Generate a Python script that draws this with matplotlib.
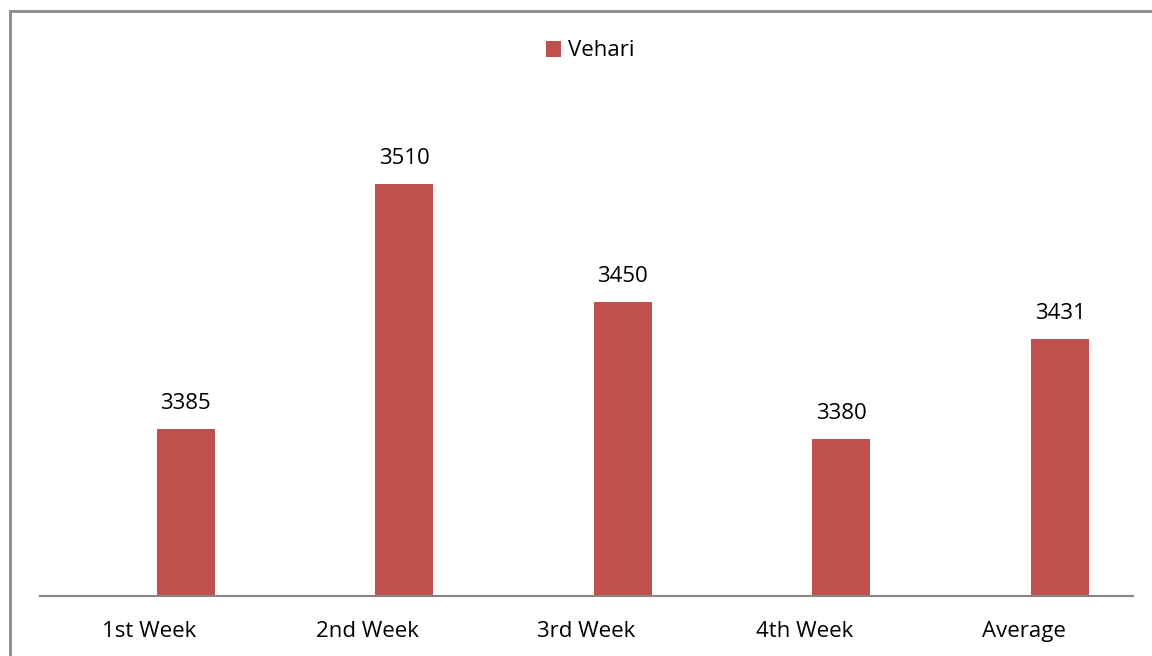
import matplotlib.pyplot as plt
from matplotlib.patches import Rectangle

categories = ["1st Week", "2nd Week", "3rd Week", "4th Week", "Average"]
values = [3385, 3510, 3450, 3380, 3431]

bar_color = "#C0504D"
plt.rcParams['font.family'] = ['Open Sans', 'DejaVu Sans']

fig = plt.figure(figsize=(11.52, 6.56), dpi=100)
ax = fig.add_axes([40 / 1152, 60 / 656, (1133 - 40) / 1152, 490 / 656])

x = list(range(len(categories)))
xb = [i + 0.166 for i in x]
bars = ax.bar(xb, values, width=0.265, color=bar_color, label="Vehari")

ax.set_xlim(-0.5, len(categories) - 0.5)
ax.set_ylim(3300, 3550)
ax.set_xticks(x)
ax.set_xticklabels(categories, fontsize=16)
ax.tick_params(axis='x', length=0, pad=18)
ax.set_yticks([])
for side in ['left', 'right', 'top']:
    ax.spines[side].set_visible(False)
ax.spines['bottom'].set_color('#868686')
ax.spines['bottom'].set_linewidth(1.5)

for xi, v in zip(xb, values):
    ax.annotate(str(v), (xi, v), xytext=(0, 11), textcoords='offset points',
                ha='center', va='bottom', fontsize=16)

fig.legend(handles=[bars], labels=["Vehari"], loc='center', bbox_to_anchor=(590 / 1152, 1 - 51 / 656),
           frameon=False, fontsize=16, handlelength=0.7, handleheight=0.7, handletextpad=0.3)

# outer chart frame
fig.patches.append(Rectangle((10 / 1152, -0.05), 1.1, 1 - 11 / 656 + 0.05, transform=fig.transFigure,
                             fill=False, edgecolor='#898989', linewidth=2, clip_on=False))

fig.savefig("out.png", dpi=100)
